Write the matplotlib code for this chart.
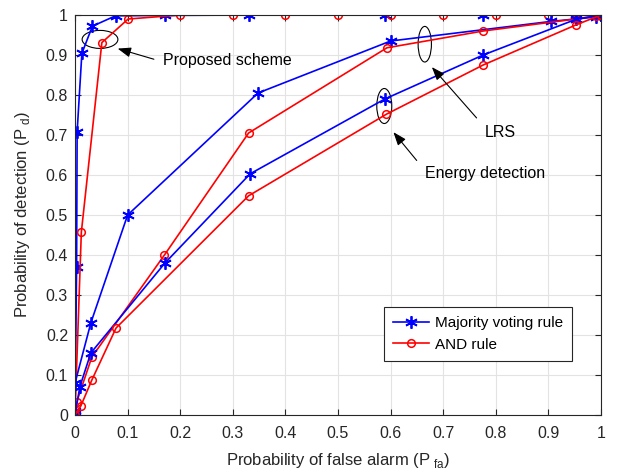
import matplotlib
matplotlib.use("Agg")
import matplotlib.pyplot as plt
from matplotlib.patches import Ellipse

plt.rcParams['font.family'] = ['Liberation Sans', 'DejaVu Sans']

# Proposed scheme
prop_mv_x = [0, 0.003, 0.004, 0.013, 0.033, 0.077, 0.171, 0.33, 0.589, 0.776, 0.952, 1.0]
prop_mv_y = [0.005, 0.37, 0.708, 0.904, 0.972, 0.998, 0.999, 1.0, 1.0, 1.0, 1.0, 1.0]
prop_and_x = [0, 0.012, 0.051, 0.101, 0.2, 0.3, 0.4, 0.5, 0.6, 0.7, 0.8, 0.9, 0.952, 0.99, 1.0]
prop_and_y = [0.005, 0.457, 0.931, 0.99, 1.0, 1.0, 1.0, 1.0, 1.0, 1.0, 1.0, 1.0, 1.0, 1.0, 1.0]

# LRS
lrs_mv_x = [0, 0.0, 0.03, 0.1, 0.348, 0.6, 0.905, 0.99, 1.0]
lrs_mv_y = [0.01, 0.08, 0.23, 0.5, 0.805, 0.935, 0.984, 0.995, 1.0]
lrs_and_x = [0, 0.003, 0.032, 0.17, 0.33, 0.593, 0.776, 0.952, 0.99, 1.0]
lrs_and_y = [0.005, 0.032, 0.145, 0.40, 0.705, 0.918, 0.96, 0.99, 0.998, 1.0]

# Energy detection
ed_mv_x = [0, 0.009, 0.03, 0.171, 0.333, 0.589, 0.776, 0.952, 1.0]
ed_mv_y = [0.0, 0.07, 0.155, 0.38, 0.603, 0.79, 0.90, 0.989, 1.0]
ed_and_x = [0, 0.011, 0.032, 0.078, 0.33, 0.592, 0.776, 0.952, 1.0]
ed_and_y = [0.0, 0.0225, 0.0875, 0.2175, 0.548, 0.752, 0.875, 0.975, 1.0]

ticks = [0, 0.1, 0.2, 0.3, 0.4, 0.5, 0.6, 0.7, 0.8, 0.9, 1]
tick_labels = ['0', '0.1', '0.2', '0.3', '0.4', '0.5', '0.6', '0.7', '0.8', '0.9', '1']

fig = plt.figure(figsize=(6.17, 4.75), dpi=100)
ax = fig.add_axes([0.1216, 0.1263, 0.8524, 0.8421])

# asterisk marker like matlab '*'
mv = dict(color='blue', marker=(6, 2, 0), markersize=9, markeredgewidth=1.3, linewidth=1.2)
an = dict(color='red', marker='o', markersize=5.5, markerfacecolor='none', markeredgewidth=1.1, linewidth=1.2)

ax.plot(prop_mv_x, prop_mv_y, label='Majority voting rule', **mv)
ax.plot(prop_and_x, prop_and_y, label='AND rule', **an)
ax.plot(lrs_mv_x, lrs_mv_y, **mv)
ax.plot(lrs_and_x, lrs_and_y, **an)
ax.plot(ed_mv_x, ed_mv_y, **mv)
ax.plot(ed_and_x, ed_and_y, **an)

ax.set_xlim(0, 1)
ax.set_ylim(0, 1)
ax.set_xticks(ticks)
ax.set_xticklabels(tick_labels)
ax.set_yticks(ticks)
ax.set_yticklabels(tick_labels)
ax.tick_params(direction='in', top=True, right=True, labelsize=11.5, length=4, colors='#262626')
ax.tick_params(axis='x', pad=8)
ax.tick_params(axis='y', pad=5)
ax.grid(True, color='#e3e3e3', linewidth=0.8)
ax.set_axisbelow(True)
for s in ax.spines.values():
    s.set_color('#262626')
    s.set_linewidth(0.8)

ax.set_xlabel('Probability of false alarm (P$_{\\ \\mathregular{fa}}$)', fontsize=12, color='#262626', labelpad=7)
ax.set_ylabel('Probability of detection (P$_{\\ \\mathregular{d}}$)', fontsize=12, color='#262626', labelpad=10)

# annotations
ax.add_patch(Ellipse((0.0475, 0.939), 0.068, 0.045, fill=False, color='black', linewidth=0.8))
ax.add_patch(Ellipse((0.665, 0.927), 0.0253, 0.089, fill=False, color='black', linewidth=0.8))
ax.add_patch(Ellipse((0.588, 0.7725), 0.0285, 0.0875, fill=False, color='black', linewidth=0.8))

arrow = dict(arrowstyle='-|>,head_length=0.8,head_width=0.3', color='black', linewidth=0.8)
ax.annotate('', xy=(0.076, 0.918), xytext=(0.155, 0.8875), arrowprops=arrow)
ax.annotate('', xy=(0.675, 0.875), xytext=(0.767, 0.7375), arrowprops=arrow)
ax.annotate('', xy=(0.602, 0.7125), xytext=(0.653, 0.631), arrowprops=arrow)
ax.text(0.167, 0.8875, 'Proposed scheme', fontsize=11.5, va='center', ha='left')
ax.text(0.808, 0.707, 'LRS', fontsize=11.5, va='center', ha='center')
ax.text(0.665, 0.604, 'Energy detection', fontsize=11.5, va='center', ha='left')

leg = ax.legend(loc='lower right', bbox_to_anchor=(0.945, 0.135), fontsize=11,
                fancybox=False, edgecolor='#262626', framealpha=1, borderpad=0.6,
                borderaxespad=0, handlelength=2.4, handletextpad=0.35)
leg.get_frame().set_linewidth(0.8)

fig.savefig('out.png', dpi=100)
